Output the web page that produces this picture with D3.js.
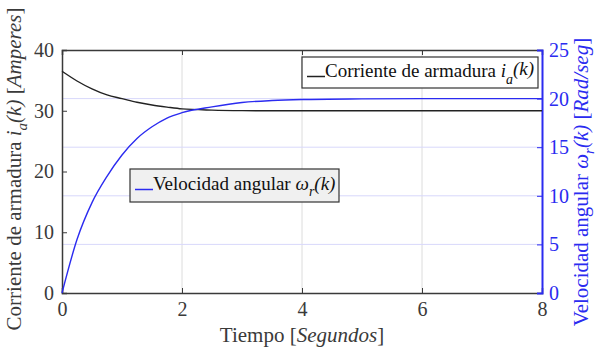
<!DOCTYPE html>
<html>
<head>
<meta charset="utf-8">
<script src="https://cdn.jsdelivr.net/npm/d3@7/dist/d3.min.js"></script>
<style>
    body { margin: 0; background: #fff; }
</style>
</head>
<body>
<script>
var tiempo = [0, 0.25, 0.5, 0.75, 1, 1.25, 1.5, 1.75, 2, 2.5, 3, 3.5, 4, 5, 6, 7, 8];
var corriente = [36.5, 34.9, 33.6, 32.6, 32.0, 31.4, 30.95, 30.6, 30.3, 30.1, 30.02, 30.0, 30.0, 30.0, 30.0, 30.0, 30.0];
var velocidad = [0, 5.5, 9.3, 12.0, 14.2, 15.9, 17.1, 18.0, 18.55, 19.15, 19.6, 19.8, 19.9, 19.97, 20, 20, 20];
var xTicks = [0, 2, 4, 6, 8];
var leftTicks = [0, 10, 20, 30, 40];
var rightTicks = [0, 5, 10, 15, 20, 25];

var W = 604, H = 356;
var L = 62, R = 542, T = 50, B = 293;
var blue = '#2b2bf0', dark = '#3a3a3a';
var serif = 'Liberation Serif';

var svg = d3.select('body').append('svg')
    .attr('width', W)
    .attr('height', H);

var x = d3.scaleLinear().domain([0, 8]).range([L, R]);
var yL = d3.scaleLinear().domain([0, 40]).range([B, T]);
var yR = d3.scaleLinear().domain([0, 25]).range([B, T]);

// grid
svg.append('g').selectAll('line').data(xTicks.slice(1, -1)).enter().append('line')
    .attr('x1', function(d) { return x(d); })
    .attr('x2', function(d) { return x(d); })
    .attr('y1', T).attr('y2', B)
    .style('stroke', '#dcdcdc').style('stroke-width', 1);
svg.append('g').selectAll('line').data(rightTicks.slice(1, -1)).enter().append('line')
    .attr('x1', L).attr('x2', R)
    .attr('y1', function(d) { return yR(d); })
    .attr('y2', function(d) { return yR(d); })
    .style('stroke', '#d8d8fb').style('stroke-width', 1);

// axes
var gx = svg.append('g').attr('transform', 'translate(0,' + B + ')')
    .call(d3.axisBottom(x).tickValues(xTicks).tickSize(-5).tickPadding(9).tickFormat(d3.format('d')));
var gxt = svg.append('g').attr('transform', 'translate(0,' + T + ')')
    .call(d3.axisTop(x).tickValues(xTicks).tickSize(-5).tickFormat(''));
var gl = svg.append('g').attr('transform', 'translate(' + L + ',0)')
    .call(d3.axisLeft(yL).tickValues(leftTicks).tickSize(-5).tickPadding(8));
var gr = svg.append('g').attr('transform', 'translate(' + R + ',0)')
    .call(d3.axisRight(yR).tickValues(rightTicks).tickSize(-5).tickPadding(7));

[gx, gxt, gl].forEach(function(g) {
    g.select('.domain').style('stroke', dark).style('stroke-width', 1.5);
    g.selectAll('.tick line').style('stroke', dark);
    g.selectAll('text').style('fill', dark).style('font-size', '20px').style('font-family', serif);
});
gr.select('.domain').style('stroke', blue).style('stroke-width', 2);
gr.selectAll('.tick line').style('stroke', blue);
gr.selectAll('text').style('fill', blue).style('font-size', '20px').style('font-family', serif);

// curves
svg.append('path').datum(d3.zip(tiempo, corriente))
    .attr('d', d3.line().x(function(d) { return x(d[0]); }).y(function(d) { return yL(d[1]); }).curve(d3.curveMonotoneX))
    .style('fill', 'none').style('stroke', '#222').style('stroke-width', 1.4);
svg.append('path').datum(d3.zip(tiempo, velocidad))
    .attr('d', d3.line().x(function(d) { return x(d[0]); }).y(function(d) { return yR(d[1]); }).curve(d3.curveMonotoneX))
    .style('fill', 'none').style('stroke', blue).style('stroke-width', 1.4);

function addParts(t, parts) {
    parts.forEach(function(p) {
        var s = t.append('tspan').text(p[0]);
        if (p[1]) s.style('font-style', 'italic');
        if (p[2]) s.attr('dy', p[2]);
        if (p[3]) s.style('font-size', p[3]);
    });
}

// legends
function legend(x0, y0, w, h, fill, color, parts) {
    svg.append('rect')
        .attr('x', x0).attr('y', y0).attr('width', w).attr('height', h)
        .style('fill', fill).style('stroke', '#333').style('stroke-width', 1.2);
    svg.append('line')
        .attr('x1', x0 + 5).attr('x2', x0 + 23)
        .attr('y1', y0 + h / 2 + 4).attr('y2', y0 + h / 2 + 4)
        .style('stroke', color).style('stroke-width', 1.5);
    var t = svg.append('text')
        .attr('x', x0 + 23).attr('y', y0 + h / 2 + 4)
        .style('font-family', serif)
        .style('font-size', '19px').style('fill', '#111');
    addParts(t, parts);
}
legend(302, 57, 236, 31, '#fff', '#222',
    [['Corriente de armadura '], ['i', true], ['a', true, 7, '14px'], ['(k)', true, -9]]);
legend(130, 169, 209, 33, '#f0f0f0', blue,
    [['Velocidad angular '], ['\u03c9', true], ['r', true, 6, '14px'], ['(k)', true, -6]]);

// axis labels
function axisLabel(tx, ty, rot, color, parts) {
    var t = svg.append('text')
        .attr('transform', 'translate(' + tx + ',' + ty + ') rotate(' + rot + ')')
        .attr('text-anchor', 'middle')
        .style('font-family', serif)
        .style('font-size', '21px').style('fill', color);
    addParts(t, parts);
}
axisLabel(302, 342, 0, dark, [['Tiempo ['], ['Segundos', true], [']']]);
axisLabel(21, 169, -90, dark,
    [['Corriente de armadura '], ['i', true], ['a', true, 6, '15px'], ['(k)', true, -6], [' ['], ['Amperes', true], [']']]);
axisLabel(588, 182, -90, blue,
    [['Velocidad angular '], ['\u03c9', true], ['r', true, 6, '15px'], ['(k)', true, -6], [' ['], ['Rad/seg', true], [']']]);
</script>
</body>
</html>
